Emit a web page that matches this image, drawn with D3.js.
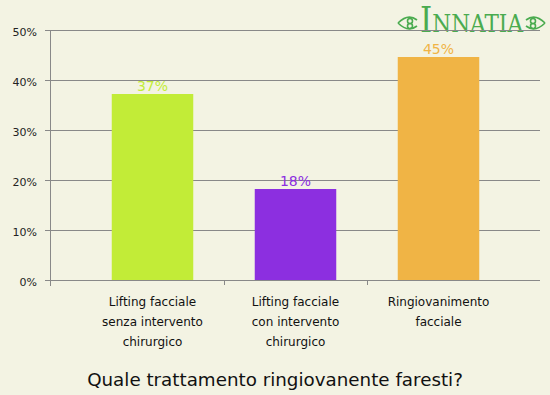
<!DOCTYPE html>
<html>
<head>
<meta charset="utf-8">
<script src="https://cdn.jsdelivr.net/npm/d3@7"></script>
<style>
  body { margin: 0; background: #f3f3e3; }
  svg { display: block; }
</style>
</head>
<body>
<div id="chart"></div>
<script>
var categories = [
    ['Lifting facciale', 'senza intervento', 'chirurgico'],
    ['Lifting facciale', 'con intervento', 'chirurgico'],
    ['Ringiovanimento', 'facciale']
];
var values = [37.2, 18.2, 44.6];
var valueLabels = ['37%', '18%', '45%'];
var colors = ['#c2ec37', '#8c2fe0', '#f0b445'];
var yTicks = [0, 10, 20, 30, 40, 50];
var title = 'Quale trattamento ringiovanente faresti?';

var width = 550,
    height = 395,
    plotLeft = 50, plotRight = 540,
    plotTop = 30, plotBottom = 280,
    font = 'DejaVu Sans, Verdana, sans-serif',
    svg = d3.select('#chart').append('svg')
        .attr('width', width)
        .attr('height', height);

svg.append('rect')
    .attr('width', width)
    .attr('height', height)
    .attr('fill', '#f3f3e3');

var y = d3.scaleLinear().domain([0, 50]).range([plotBottom, plotTop]);
var x = d3.scaleBand()
    .domain(d3.range(categories.length))
    .range([81, 510])
    .paddingInner(0.43)
    .paddingOuter(0.215);

// logo (under the gridline)
var logo = svg.append('g').attr('fill', '#4aab4f');
logo.append('text')
    .attr('x', 420)
    .attr('y', 32)
    .attr('textLength', 103)
    .attr('lengthAdjust', 'spacingAndGlyphs')
    .style('font-family', 'DejaVu Serif, serif')
    .style('font-size', '25px')
    .html('<tspan style="font-size:36px">I</tspan>NNATIA');
[408, 535].forEach(function (cx, k) {
    var g = svg.append('g')
        .attr('transform', 'translate(' + cx + ',23)' + (k ? ' scale(-1,1)' : ''))
        .style('fill', 'none')
        .style('stroke', '#4aab4f')
        .style('stroke-width', 1.6);
    g.append('path').attr('d', 'M-10,0 Q0,-10 9,-3 M-10,0 Q0,10 9,3');
    g.append('circle').attr('cx', 2).attr('cy', -2).attr('r', 2.5);
    g.append('circle').attr('cx', 2).attr('cy', 3).attr('r', 2.5);
});

// gridlines
svg.selectAll('.grid')
    .data(yTicks)
    .enter()
    .append('line')
    .attr('x1', plotLeft - 5)
    .attr('x2', plotRight)
    .attr('y1', function (d) { return Math.round(y(d)) + 0.5; })
    .attr('y2', function (d) { return Math.round(y(d)) + 0.5; })
    .style('stroke', '#888')
    .style('stroke-width', 1);

svg.selectAll('.ylab')
    .data(yTicks)
    .enter()
    .append('text')
    .attr('x', plotLeft - 13)
    .attr('y', function (d) { return y(d) + 6; })
    .attr('text-anchor', 'end')
    .style('font-family', font)
    .style('font-size', '11px')
    .style('fill', '#222')
    .text(function (d) { return d + '%'; });

// y axis line
svg.append('line')
    .attr('x1', plotLeft + 0.5).attr('x2', plotLeft + 0.5)
    .attr('y1', plotTop).attr('y2', plotBottom + 6)
    .style('stroke', '#888');

// category separators
var seps = [];
for (var i = 1; i < categories.length; i++) {
    seps.push((x(i - 1) + x.bandwidth() + x(i)) / 2);
}
svg.selectAll('.sep')
    .data(seps)
    .enter()
    .append('line')
    .attr('x1', function (d) { return Math.round(d) + 0.5; })
    .attr('x2', function (d) { return Math.round(d) + 0.5; })
    .attr('y1', plotBottom)
    .attr('y2', plotBottom + 5)
    .style('stroke', '#888');

// bars
svg.selectAll('.bar')
    .data(values)
    .enter()
    .append('rect')
    .attr('x', function (d, i) { return x(i); })
    .attr('y', function (d) { return y(d); })
    .attr('width', x.bandwidth())
    .attr('height', function (d) { return plotBottom - y(d); })
    .attr('fill', function (d, i) { return colors[i]; });

svg.selectAll('.val')
    .data(values)
    .enter()
    .append('text')
    .attr('x', function (d, i) { return x(i) + x.bandwidth() / 2; })
    .attr('y', function (d) { return y(d) - 3; })
    .attr('text-anchor', 'middle')
    .style('font-family', font)
    .style('font-size', '14px')
    .style('fill', function (d, i) { return colors[i]; })
    .text(function (d, i) { return valueLabels[i]; });

// category labels
categories.forEach(function (lines, i) {
    var t = svg.append('text')
        .attr('text-anchor', 'middle')
        .style('font-family', font)
        .style('font-size', '12px')
        .style('fill', '#111');
    lines.forEach(function (l, j) {
        t.append('tspan')
            .attr('x', x(i) + x.bandwidth() / 2)
            .attr('y', 306 + j * 20)
            .text(l);
    });
});

svg.append('text')
    .attr('x', width / 2)
    .attr('y', 386)
    .attr('text-anchor', 'middle')
    .style('font-family', font)
    .style('font-size', '18.3px')
    .style('fill', '#111')
    .text(title);
</script>
</body>
</html>
